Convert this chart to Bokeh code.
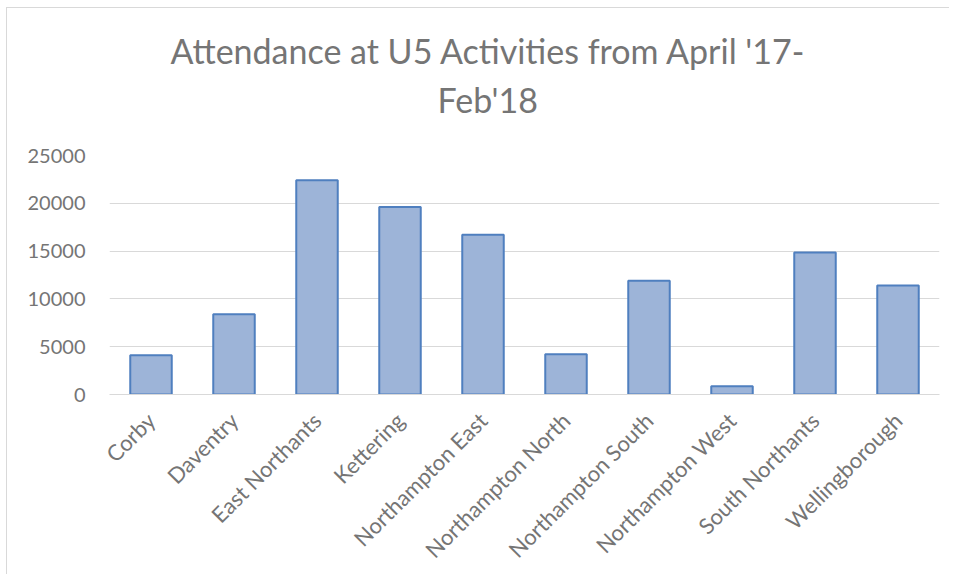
from math import pi
from bokeh.plotting import figure
from bokeh.models import ColumnDataSource, FixedTicker, NumeralTickFormatter, Title
from bokeh.embed import file_html
from bokeh.resources import INLINE

categories = ["Corby", "Daventry", "East Northants", "Kettering", "Northampton East",
              "Northampton North", "Northampton South", "Northampton West",
              "South Northants", "Wellingborough"]
attendance = [4100, 8400, 22400, 19600, 16700, 4200, 11900, 850, 14850, 11400]
y_ticks = [0, 5000, 10000, 15000, 20000, 25000]
title_lines = ["Attendance at U5 Activities from April '17-", "Feb'18"]

src = ColumnDataSource(dict(cat=categories, val=attendance))

p = figure(x_range=categories, y_range=(0, 25000), width=943, height=567,
           output_backend="svg", toolbar_location=None,
           min_border_left=102, min_border_right=11, min_border_top=147, min_border_bottom=181)
p.styles = {"border-left": "1px solid #d9d9d9", "border-top": "1px solid #d9d9d9",
            "margin-top": "7px", "margin-left": "6px"}

p.title.visible = False

t2 = Title(text=title_lines[1], align="left", offset=328, standoff=72,
           text_font="Lato", text_font_style="normal", text_font_size="34px", text_color="#757575")
t1 = Title(text=title_lines[0], align="left", offset=61, standoff=-60,
           text_font="Lato", text_font_style="normal", text_font_size="34px", text_color="#757575")
p.add_layout(t2, "above")
p.add_layout(t1, "above")

p.vbar(x="cat", top="val", width=0.5, source=src, fill_color="#9db4d8",
       line_color="#4f7fbf", line_width=2)

p.outline_line_color = None
p.xgrid.grid_line_color = None
p.ygrid.grid_line_color = "#d9d9d9"
p.ygrid.grid_line_width = 1

p.yaxis.ticker = FixedTicker(ticks=y_ticks)
p.yaxis.formatter = NumeralTickFormatter(format="0")
p.yaxis.axis_line_color = None
p.yaxis.major_tick_line_color = None
p.yaxis.minor_tick_line_color = None
p.yaxis.major_label_standoff = 18
p.yaxis.major_label_text_font = "Lato"
p.yaxis.major_label_text_font_size = "20px"
p.yaxis.major_label_text_color = "#757575"

p.xaxis.axis_line_color = "#d9d9d9"
p.xaxis.axis_line_width = 1
p.xaxis.major_tick_line_color = None
p.xaxis.minor_tick_line_color = None
p.xaxis.major_label_orientation = pi / 4
p.xaxis.major_label_standoff = 16
p.xaxis.major_label_text_font = "Lato"
p.xaxis.major_label_text_font_size = "22px"
p.xaxis.major_label_text_color = "#757575"

p.x_range.range_padding = 0

open("out.html", "w").write(file_html(p, INLINE))
